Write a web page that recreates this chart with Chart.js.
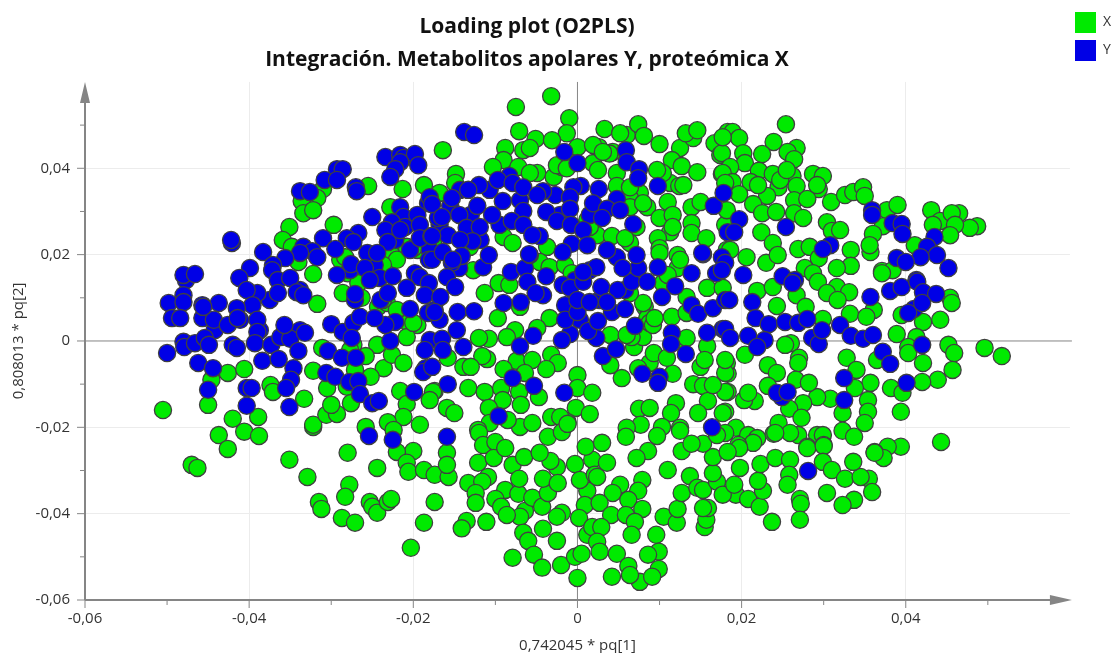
<!DOCTYPE html>
<html>
<head>
<meta charset="utf-8">
<title>Loading plot (O2PLS)</title>
<script src="https://cdn.jsdelivr.net/npm/chart.js@4"></script>
<style>
    html, body { margin: 0; padding: 0; background: #ffffff; }
    canvas { display: block; }
</style>
</head>
<body>
<canvas id="loadingChart" width="1112" height="653"></canvas>
<script>
// Chart text
const titleLines = ['Loading plot (O2PLS)', 'Integración. Metabolitos apolares Y, proteómica X'];
const xAxisTitle = '0,742045 * pq[1]';
const yAxisTitle = '0,808013 * pq[2]';
const seriesNames = ['X', 'Y'];

// Axis limits and tick step
const axisMin = -0.06;
const axisMax = 0.06;
const tickStep = 0.01;

// Loadings, as [pq1, pq2] in thousandths
const seriesXTop = [[-16.4,44.2],[-7.5,54.2],[-3.2,56.7],[-1,51.6],[-7.1,48.6],[-1.3,48.1],[-5.1,46.8],[-3.1,46.5],[-8.8,44.7],[-6.6,44.2],[-5.8,44.7],[0,44.9],[-9,41.9],[-7.2,40.3],[-10.3,40.3],[-14.8,38.7],[-4.9,38.9],[-2.9,38],[-1.9,40.3],[1.9,41.2],[2.5,39.6],[3.3,49.1],[6,47.7],[5.2,48.1],[7.4,50.2],[8.1,47.5],[2.6,44.9],[1.9,45.4],[4.3,43.8],[10,45.6],[12.5,44.7],[14.1,47],[13.2,48.1],[14.6,48.8],[11.5,41.9],[12.7,40.5],[14.6,39.1],[16.7,45.8],[17.4,43.1],[17.6,38.7],[18.3,48.4],[4.8,38.9],[4.8,35.9],[11.3,36.6],[12.4,35.9],[11,32.2],[7.6,34.3],[8.5,31],[10,28.5],[11.6,29.2],[13.9,31],[15,32.2],[11.3,25.2],[9.8,23.8],[10,21.5],[13.9,27.3],[13.9,25],[15.7,23.8],[18,26.9],[-9,24.1],[-7.9,22.7],[2.4,24.5],[4.2,24.3],[7.2,26.4],[6.4,22.7],[-3.7,21.8],[12.2,19.9],[18.2,21.1],[-13.1,21.8]];
const seriesXUpperRight = [[25.4,50.2],[18.9,48.4],[19.7,47],[23.9,46.1],[26.7,44.7],[25.6,43.8],[26.4,42.1],[20.2,43.5],[22.5,43.3],[17.6,43.5],[20.4,41.2],[18.6,40.3],[22.1,39.4],[23.8,38.7],[26.2,38.2],[17.7,38.9],[21.1,36.8],[28.7,38.7],[29.9,38.2],[29.4,35.2],[24.5,35.6],[26.7,35.9],[18.9,36.8],[19.7,34],[23.1,33.6],[26.4,32.6],[28,32.9],[30.9,32.2],[32.6,33.8],[33.6,34.5],[34.8,35.6],[35,33.6],[21.4,31.7],[22.5,29.6],[24.2,29.9],[26.4,29.6],[27.5,28.5],[18.2,30.3],[30.4,27.5],[31,25.5],[32,25.7],[37.7,30.3],[39,31.5],[43.1,30.3],[44.2,27.8],[46.5,29.6],[45.6,29.6],[48.7,26.6],[47.8,26.2],[46,26.9],[43.3,26.9],[45.4,24.5],[37.2,26.6],[36,24.8],[22.4,25.2],[23.8,22.7],[26.9,21.3],[28.3,21.8],[33.3,21.1],[35.7,20.6],[35.6,22.2],[18.6,21.1],[20.6,19.4],[23,18.1],[24.4,19.9],[29.4,19.2],[33.3,17.4],[31.6,16.9],[27.7,16.9],[37.1,16.2],[41.1,22.2],[38.4,16.4],[28.7,15.7],[17.7,47.2],[18,36.6],[24.7,37.3],[25.5,39.6],[22,36.1],[29.2,36.1]];
const seriesXRight = [[29.3,13.7],[31.6,12.5],[33.1,11.3],[30.4,11.1],[31.7,9.5],[37.1,15.7],[45.4,10],[45.6,8.8],[21.9,11.6],[23.8,12.5],[26.7,10.6],[24.3,8.1],[27.8,7.9],[29.9,5.1],[33.2,6.3],[36.1,7.2],[35.2,5.6],[44.2,4.9],[39.5,6],[42.1,4.4],[38.9,1.6],[41.3,0.9],[45.2,-0.9],[45.9,-2.8],[49.6,-1.6],[51.7,-3.5],[45.7,-6.7],[43.9,-9],[42.1,-5.1],[42,-9.5],[40.3,-1.4],[40.3,-2.8],[36.5,-4.4],[32.8,-3.9],[34,-6.7],[35.7,-9.7],[33.8,-10.9],[38.2,-10.9],[39.6,-12],[35.4,-13.7],[35.4,-16.4],[39.4,-16.4],[35,-19],[32.3,-16.7],[30.8,-13.4],[29.2,-13],[32.3,-20.8],[33.7,-22.2],[44.3,-23.4],[39.4,-24.5],[37.8,-24.5],[36.2,-25.7],[26,-0.5],[25.3,-0.9],[27,-3.9],[26.9,-5.1],[23.2,-5.6],[24.3,-7.4],[23.2,-10.4],[26.6,-9],[28.2,-9.7],[27.5,-14.4],[25.8,-15.7],[27.3,-17.8],[24.5,-19],[23.9,-21.5],[26.9,-21.8],[25.9,-21.3],[29.2,-21.8],[29.9,-21.8],[30,-24.1],[28,-24.5],[21.6,-13.9],[20.3,-13.7],[20.8,-12],[18,-16.4],[18.3,-11.8],[18.3,-7.6],[18.2,-5.1],[20.4,-3.2],[19.3,-20.1],[18,-21.3],[20.8,-21.8],[21.9,-22.5],[21.4,-23.6],[19.6,-24.1]];
const seriesXCentre = [[-11.3,11.1],[-9.6,13.4],[-8.3,13],[-9.7,5.3],[-7,7.9],[-3.4,5.3],[-4.9,3],[-7.6,2.5],[-8.6,0.9],[-10.8,0.5],[-12,0.7],[-11,-4.2],[-11.6,-3.5],[-13.9,-6],[-13,-6],[-15.8,-3.9],[-7.4,-4.6],[-5.5,-4.4],[-3.2,-3.2],[-2.4,-5.1],[-3.8,-6.5],[-9,-6.5],[-6.4,-7.4],[-13.3,-10.9],[-17.4,-11.6],[-11.3,-11.8],[-9.3,-10.9],[-7.1,-11.8],[0,-7.9],[0,-10.9],[1.8,-12],[-4.7,-13],[-9.1,-13.7],[-6.9,-14.8],[-10.8,-15.5],[-15.9,-15.5],[-15,-16.7],[-0.2,-15.5],[1.5,-16.9],[-1.2,-18.8],[-3.2,-17.6],[-2.1,-17.6],[-7,-19.9],[-5.5,-19],[-10.7,-19],[-12.1,-20.6],[-8.5,-18.3],[5.4,-8.6],[4,-5.6],[8.8,-5.1],[11.6,-7.6],[7.4,-6.3],[9.3,-2.8],[10.9,-3.9],[6.9,-1.4],[8,0.9],[6.6,0.9],[8.2,7.9],[8.5,5.3],[8.8,4.2],[11.5,5.6],[12.8,0.2],[15.8,-1.2],[15,-6],[14.1,-10],[15.3,-10.4],[18,-7.4],[18,-11.8],[15.9,-13.9],[17.7,-16.7],[14.7,-16.7],[7.5,-15.7],[8.8,-15.5],[12,-14.4],[11.4,-16.7],[7.7,-19.4],[10.3,-19.9],[12.5,-20.1],[6,-20.1],[16.5,-10.2],[4,1.4]];
const seriesXHidden = [[8,8.8],[9.2,3.7],[6,1.4],[13.3,0.7],[9.4,5.3],[12.2,16.9],[10.4,13.4],[11,15.3],[12.5,18.8],[10,20.4],[13.3,10.2],[13.3,6.5],[15.8,12.3],[18,-4.4],[15.5,-4.4],[17.7,12.3],[-4.6,18.3],[-3.4,17.1],[-12.7,16.4],[-1.5,17.6],[-0.7,15.7],[6.4,11.1],[-20.6,4.2],[-19.5,3.7],[-27.3,-0.9],[-27.7,-2.1],[-28.1,-10.6],[-24.3,7.9],[-23.2,8.8],[-22,7.2],[-28.9,18.8],[-28,15.7],[-22.8,20.4],[-20.8,21.8],[-19.5,21.1],[1.2,28],[1.5,26.4],[6.4,33.1],[6.4,31],[8,31.9],[3.9,43.4],[3.1,43.8],[-2.5,40.7],[-1.3,40],[-5.8,38.9],[-14.9,36.6],[-16.8,34.3],[10.4,38.9],[9.7,39.6],[12.9,36.1],[6.4,35.6],[11.6,26.4],[5.8,23.8]];
const seriesXLowerLeft = [[-32.2,-19.9],[-28,-25.9],[-24.4,-29.4],[-32.9,-31.5],[-27.8,-33.3],[-28.3,-36.1],[-31.5,-37.3],[-31.2,-38.9],[-28.7,-41],[-27.1,-42.1],[-25.3,-37.3],[-25,-38.4],[-24.4,-39.8],[-23.1,-37.3],[-22.7,-36.6],[-17.4,-37.3],[-18.7,-42.1],[-20.3,-47.9],[-13.5,-41.7],[-14.1,-43.4],[-11.1,-41.9],[-20,-25.5],[-22,-25.7],[-20.8,-28.2],[-20.6,-30.3],[-18.7,-29.9],[-17.4,-31],[-15.7,-31.5],[-15.9,-25.9],[-15.9,-28.7],[-12.1,-28.2],[-12,-21.3],[-11.5,-24.1],[-10,-23.4],[-10.2,-27.1],[-8.8,-24.8],[-13.3,-32.9],[-10.9,-31.5],[-11.6,-32.6],[-12.4,-35.2],[-12.4,-37.5],[-8.8,-34.5],[-10,-36.6],[-9.3,-38.4],[-7.2,-35.4],[-7.9,-28.7],[-7.1,-31.9],[-6.5,-26.9],[-6.4,-39.4],[-7,-40.7],[-8.6,-40.3],[-5.5,-36.3],[-4.3,-38.4],[-3.6,-35.2],[-4.2,-31.9],[-2.5,-29.2],[-3.3,-27.8],[-2.4,-32.9],[-4.6,-25.9],[-0.3,-28.5],[1.8,-27.5],[1,-24.5],[1.2,-34.7],[0.3,-32.2],[2.1,-31],[0.9,-38],[-1.9,-39.8],[-2.5,-40.7],[-4.2,-43.5],[0.2,-41],[1.2,-44.9],[1.8,-43.1],[-6.6,-44.4],[-6,-46.3],[-2.5,-46.3],[-5.3,-49.5],[-7.9,-50.2],[-4.3,-52.5],[-2,-51.9],[-0.3,-50],[0.5,-49.3],[0,-54.9],[-3.6,-22.2],[-1.9,-21.1],[-1.2,-19.2]];
const seriesXLowerRight = [[3,-23.6],[5.9,-22.2],[9.7,-22],[12.5,-20.8],[8.6,-25.5],[7.2,-27.1],[12.7,-25.5],[3.6,-28.2],[2.4,-31.5],[11,-29.9],[13.7,-31.3],[7.9,-32.2],[5.2,-33.3],[4.3,-35.2],[7.4,-34.7],[6.2,-36.8],[2.7,-37.5],[7.9,-38.9],[4.1,-40.3],[5.9,-40.3],[7,-41.9],[2.9,-43.1],[6.6,-44.9],[9.6,-44.9],[2.4,-46.5],[2.7,-48.8],[4.8,-49.3],[9.9,-48.8],[8.6,-49.5],[6.2,-52.1],[9.9,-52.8],[4.2,-54.6],[7.6,-55.8],[9.1,-54.6],[6.4,-54.2],[10.5,-40.7],[12.1,-42.1],[12.2,-38.9],[12.7,-35.2],[15.5,-43.1],[15.7,-41.4],[15.9,-38.7],[15.3,-38.7],[14.6,-34],[15.3,-34.5],[17,-32.6],[16.5,-30.6],[16.5,-26.9],[15.3,-23.8],[13.9,-23.8],[17,-21.8],[19.3,-35.6],[20.8,-36.6],[17.7,-35.6],[19.1,-33.3],[22.2,-38.4],[22.6,-34.7],[22,-32.4],[19.8,-29.4],[22.3,-28.5],[24.1,-27.1],[25.9,-27.5],[25.8,-31],[25.6,-33.3],[27.1,-36.6],[27.2,-37.7],[27.1,-41.4],[23.7,-41.9],[28,-24.8],[30,-24.3],[29.9,-28],[31,-29.9],[32.6,-31.9],[35.5,-31.9],[34.5,-31.5],[35.9,-35],[33.7,-36.8],[32.3,-38],[30.4,-35.2],[33.6,-28],[37.3,-27.1],[36.2,-25.9],[24.1,-21.3],[19.7,-24.8],[18.3,-25.7]];
const seriesXLeft = [[-50.5,-16],[-45,-14.8],[-42.6,-7.4],[-44.6,-9],[-40.6,-6.5],[-42,-18],[-43.7,-21.8],[-42.6,-25],[-40.6,-21],[-38.8,-22],[-38.9,-17.6],[-47,-28.7],[-46.3,-29.4],[-35.1,-27.5],[-37.4,-10.2],[-37.1,-11.8],[-33.3,-13.4],[-32.2,-19.4],[-32.2,-6.9],[-31.1,-1.6],[-30.6,-17.1],[-29.3,-16.9],[-30.5,-10.9],[-30,-14.8],[-27.6,-14.4],[-25.8,-19.9],[-24.4,-0.9],[-23.6,-6.3],[-22.6,-3.2],[-21.2,-5.1],[-25.2,-8.3],[-27.1,-6.7],[-25.8,-3.5],[-20.8,0.9],[-20,4.2],[-21.6,-11.6],[-17.6,-11.8],[-18,-13.7],[-20.8,-14.6],[-19.2,-19.4],[-21.2,-17.6],[-23.1,-18.8],[-22.4,-20.6]];
const seriesXUpperLeft = [[-25.5,35.9],[-31,35.2],[-31.7,33.1],[-33.6,32.4],[-33.4,29.6],[-32.2,30.3],[-35.1,26.4],[-35.9,23.4],[-34.8,21.8],[-29.7,26.9],[-21.3,35.2],[-18.7,36.1],[-22.8,31],[-34,18.3],[-32.2,15.5],[-28.3,19.4],[-22,18.8],[-23.7,17.6],[-28.6,11.1],[-26.3,10],[-31.7,8.6],[-23.7,9.5],[-20,21.5],[-17.6,22.7],[-26.7,13.4]];

const seriesYLeft = [[-23.4,42.6],[-21.6,43.1],[-21.2,42.4],[-19.8,43.3],[-19.4,40.7],[-21.6,41.4],[-22.2,39.8],[-22.8,38],[-29.3,39.8],[-28.6,39.8],[-30.8,37.3],[-29.3,37.3],[-27,35.6],[-26.9,34.7],[-33.8,34.7],[-32.6,34.5],[-42.1,22.7],[-42.2,23.4],[-25,28.7],[-18.2,31.9],[-18,33.3],[-21.6,31],[-21.2,28.7],[-19.5,29.2],[-22.6,27.5],[-23.4,25.7],[-21,26.4],[-19.2,26.9],[-23.1,22.9],[-21.6,25.7],[-19.2,23.8],[-17.8,24.3],[-17,28.5],[-31,23.8],[-26.7,25],[-28.1,23.8],[-27.3,22.9],[-33.4,21.8],[-32.3,20.8],[-33.8,20.4],[-29.5,21.3],[-31.7,19.4],[-25.6,20.4],[-24.4,20.4],[-38.3,20.6],[-35.6,19.2],[-37.1,17.6],[-39.9,16.9],[-37.2,16.4],[-41.2,14.6],[-27.6,17.8],[-25.9,16.9],[-29.3,15.3],[-24.1,14.6],[-22.5,15],[-25.3,14.1],[-18.1,18.8],[-19.8,15.7],[-19.2,14.8],[-18.1,13.4],[-36.5,14.1],[-35,14.6],[-39,11.1],[-40.3,11.8],[-36.5,11.1],[-34.2,11.3],[-33.4,10.6],[-27.1,10.9],[-23.1,11.1],[-20.8,12.3],[-18.6,10.6],[-47.7,14.1],[-48,15.3],[-46.6,15.5],[-48,10.6],[-49.8,8.8],[-48,9],[-45.7,8.3],[-43.7,8.8],[-39.6,8.3],[-41.5,7.6]];
const seriesYLowerLeft = [[-49.4,5.3],[-48.4,5.3],[-45.7,5.3],[-44.3,4.9],[-45.6,7.9],[-42.6,3.7],[-41.4,5.3],[-39,4.9],[-39,2.1],[-48,-0.2],[-47.9,-1.4],[-46.6,-0.5],[-45.4,0.7],[-44.9,-0.9],[-50,-2.8],[-42,-0.9],[-41.5,-1.6],[-39.3,-0.5],[-37.3,-0.9],[-36.2,0.9],[-35,0.5],[-35.7,3.7],[-33.2,1.9],[-34,-2.3],[-38.4,-4.6],[-36.4,-4.2],[-46.2,-5.1],[-44.4,-6.3],[-34.6,-6.3],[-34.9,-9],[-35.5,-10.9],[-35.1,-15.3],[-45,-11.3],[-40.3,-10.9],[-39.7,-10.9],[-40.3,-15],[-30,3.9],[-28.6,2.1],[-27.3,4.2],[-26.5,5.6],[-27.5,0.7],[-30.4,-2.3],[-28.7,-3.9],[-27,-3.9],[-30.6,-7.4],[-29.5,-8.3],[-27.8,-9.5],[-26.7,-9.3],[-26.5,-12.3],[-25,-14.4],[-24.2,-13.9],[-25.4,-22],[-22.5,-22.9],[-19.9,-11.8],[-22.8,0],[-22.2,4.4],[-23.4,3.7],[-24.7,5.3],[-20.4,7.4],[-18.6,-2.1],[-18.5,-6.3],[-18.8,-7.2],[-18.2,6.5],[-17.4,7.2]];
const seriesYCentre = [[-11.5,17.1],[-10.8,19.9],[-14.4,16.9],[-15.3,18.1],[-15.9,14.8],[-14.9,12.5],[-16.7,10.2],[-17.4,6.7],[-14.6,6.7],[-12.6,6.9],[-14.7,2.5],[-16.5,0.5],[-16.4,-2.1],[-13.9,-1.4],[-15.8,-10],[-17.7,-6],[-9,8.8],[-6.9,9],[-8.1,16],[-6.4,16.9],[-5.8,19.9],[-6.1,13.7],[-3.8,15],[-4.2,10.6],[-5.1,11.1],[-1.8,13],[-0.9,12.3],[0.7,13.7],[2.3,17.1],[2.9,12.5],[4.8,19.4],[4.9,11.8],[4.2,6.7],[5.8,7.4],[6.6,13.7],[7.4,16.9],[5.5,16.9],[7.2,19.9],[9.8,17.1],[8.5,13.7],[10.3,10.2],[11.9,12.7],[13.9,15.7],[16.9,15.7],[13.9,8.3],[14.7,6.3],[16.5,7.6],[15.3,20.1],[18,9.5],[17.7,2.8],[15.8,1.9],[7,3.5],[11.5,1.9],[11.4,-0.7],[13.2,-3],[7.9,-7.6],[10,-8.3],[9.8,-9.7],[3.1,-3.5],[4.7,-1.9],[2.3,0.7],[1.3,2.3],[-0.9,1.6],[-1.9,0.2],[-1.5,4.9],[0,6.7],[2.5,4.6],[-5.4,1.2],[-7,-1.2],[-7.9,-8.6],[-5.3,-10.4],[-1.6,-12],[-9.6,-17.4],[16.4,-20],[-17.7,18.8],[0,9.5],[1.5,9],[3.6,9],[0.7,16]];
const seriesYTop = [[-13.8,48.4],[-12.6,47.7],[-1.6,43.8],[0,41.2],[5.9,44.2],[6,41.4],[7.5,39.8],[7.4,37.7],[9.8,35.9],[-8.3,38.2],[-9.7,37.3],[-7.9,36.6],[-6.6,35.6],[-12,36.1],[-13.3,35],[-4.2,34.7],[-4.9,33.8],[0.4,35.9],[-0.5,35.6],[2.6,35.2],[-0.9,33.3],[-15.3,33.1],[-9.1,32.4],[-12.2,31.3],[-17.7,31.7],[-0.9,30.6],[1.9,31.9],[4.8,32.9],[3.6,30.6],[5.2,30.3],[16.6,31.3],[17.8,34.3],[-6.6,30.1],[-3.8,29.9],[-10.4,29.2],[-16.5,28.7],[-14.4,29.2],[-8,27.8],[-2.5,27.8],[3,28.5],[-0.8,26.9],[6.8,27.1],[-6.6,26.9],[-13.5,26.2],[-15.8,24.5],[-17.7,24.3],[-11.9,26.4],[-12.8,23.1],[-14.3,23.4],[-4.6,24.3],[-5.5,24.5],[0.7,25.7],[-0.7,22.5],[1.2,22.2],[-1.8,20.6],[-16.4,20.6],[-14.1,19.7],[-15.2,18.8],[-5.9,20.1],[3.6,21.1],[15.2,20.4],[17.6,19.4],[18.3,25.2]];
const seriesYRight = [[19.7,28.2],[19.1,25.2],[25.4,26.4],[30.8,22.2],[29.9,21.3],[35.9,30.3],[35.9,29.2],[38.4,27.3],[39.5,27.1],[39.6,24.8],[43.5,24.1],[42.6,21.8],[43.8,19.9],[41.8,19.4],[38.9,19.2],[40,18.3],[45.2,16.9],[18,18.1],[17.6,16.4],[20.2,15.3],[25,15],[26.5,14.1],[41.3,14.1],[26.2,13.4],[18.5,9.5],[21.3,9],[21.7,5.3],[23.3,3.9],[25.3,4.4],[26.9,4.2],[28,5.1],[18,2.8],[18.6,0.7],[20.8,1.2],[22.8,0.2],[21.9,-1.4],[28.6,0.7],[29.4,-0.7],[29.8,2.5],[32,3.7],[33.3,1.2],[34.8,0.5],[36,1.4],[37.2,-2.5],[38.1,-5.3],[42,-0.9],[35.7,10.2],[38.1,11.6],[39.5,12.5],[41.4,13.7],[42.1,11.3],[43.7,10.9],[41,7.4],[40.3,6.5],[42,8.8],[32.5,-8.6],[32.5,-13.7],[40.1,-9.7],[24.9,-13],[24.3,-12],[25.6,-11.8],[28.1,-30.1],[-15.9,-22.2]];
const seriesYDense = [[-15.5,31.3],[-16.8,26.9],[-13,29.2],[-11.8,23.4],[-18,21.1],[-22.2,23.4],[-20.4,21.1],[-14.3,35],[-10.7,35],[-7,32.6],[-9.5,26.9],[-2.7,33.8],[-2.1,29.2],[1.5,29.2],[-0.3,14.1],[1.5,16.4],[2.7,9.5],[-1.5,8.3],[0.3,4.9],[5.8,11.8],[-27.7,16.4],[-24.7,17.6],[-33.8,11.8],[-37.5,9.5],[-41.1,4.9],[-44.2,2.5],[-38.7,2.5],[-33.8,2.5],[-27.1,9.5],[-24,9.5],[-16.8,4.9],[-18,0.2]];

const seriesXValues = [].concat(seriesXTop, seriesXUpperRight, seriesXRight, seriesXCentre, seriesXHidden, seriesXLowerLeft, seriesXLowerRight, seriesXLeft, seriesXUpperLeft);
const seriesYValues = [].concat(seriesYDense, seriesYLeft, seriesYLowerLeft, seriesYCentre, seriesYTop, seriesYRight);

// Colours
const greenFill = '#00ea00';
const blueFill = '#0000e6';
const markerBorder = '#404040';
const axisGray = '#858585';
const gridGray = '#ececec';
const labelGray = '#333333';
const fontFamily = '"Open Sans", "Noto Sans", sans-serif';

document.addEventListener('DOMContentLoaded', function() {
    drawChart();
});

// Tick labels use a decimal comma, only every second tick has one
function formatTick(value) {
    const hundredths = Math.round(value * 100);
    if (hundredths % 2 !== 0 || hundredths === 6) return '';
    if (hundredths === 0) return '0';
    return value.toFixed(2).replace('.', ',');
}

// Grid lines sit on the labelled ticks, the zero line is drawn by the plugin
function gridColor(context) {
    const hundredths = Math.round(context.tick.value * 100);
    if (hundredths % 2 !== 0 || hundredths === 0 || Math.abs(hundredths) === 6) {
        return 'rgba(0, 0, 0, 0)';
    }
    return gridGray;
}

function toDataset(values) {
    return values.map(pair => ({ x: pair[0] / 1000, y: pair[1] / 1000 }));
}

// Axis lines with arrow heads, zero lines and tick marks
const arrowAxesPlugin = {
    id: 'arrowAxes',
    beforeDatasetsDraw(chart) {
        const ctx = chart.ctx;
        const area = chart.chartArea;
        const xScale = chart.scales.x;
        const yScale = chart.scales.y;
        const tipX = area.right + 2;
        const tipY = area.top;

        ctx.save();
        ctx.strokeStyle = axisGray;
        ctx.fillStyle = axisGray;

        // Zero lines
        ctx.lineWidth = 1;
        ctx.beginPath();
        ctx.moveTo(area.left, yScale.getPixelForValue(0));
        ctx.lineTo(tipX, yScale.getPixelForValue(0));
        ctx.moveTo(xScale.getPixelForValue(0), area.bottom);
        ctx.lineTo(xScale.getPixelForValue(0), tipY);
        ctx.stroke();

        // Axis lines
        ctx.lineWidth = 2;
        ctx.beginPath();
        ctx.moveTo(area.left, area.bottom);
        ctx.lineTo(tipX - 20, area.bottom);
        ctx.moveTo(area.left, area.bottom);
        ctx.lineTo(area.left, tipY + 20);
        ctx.stroke();

        // Arrow heads
        ctx.beginPath();
        ctx.moveTo(tipX, area.bottom);
        ctx.lineTo(tipX - 22, area.bottom - 5);
        ctx.lineTo(tipX - 22, area.bottom + 5);
        ctx.closePath();
        ctx.moveTo(area.left, tipY);
        ctx.lineTo(area.left - 5, tipY + 21);
        ctx.lineTo(area.left + 5, tipY + 21);
        ctx.closePath();
        ctx.fill();

        // Tick marks, longer on the labelled ones
        ctx.lineWidth = 1;
        ctx.beginPath();
        xScale.ticks.forEach(tick => {
            const hundredths = Math.round(tick.value * 100);
            if (hundredths === 6) return;
            const length = hundredths % 2 === 0 ? 8 : 5;
            const px = xScale.getPixelForValue(tick.value);
            ctx.moveTo(px, area.bottom);
            ctx.lineTo(px, area.bottom + length);
        });
        yScale.ticks.forEach(tick => {
            const hundredths = Math.round(tick.value * 100);
            if (hundredths === 6) return;
            const length = hundredths % 2 === 0 ? 8 : 5;
            const py = yScale.getPixelForValue(tick.value);
            ctx.moveTo(area.left, py);
            ctx.lineTo(area.left - length, py);
        });
        ctx.stroke();
        ctx.restore();
    }
};

// The title is centred a bit left of the canvas centre, the legend sits in the top right corner
const blockShiftPlugin = {
    id: 'blockShift',
    beforeDraw(chart) {
        chart.titleBlock.left = 0;
        chart.titleBlock.right = 1054;
        chart.legend.left = 1068;
        chart.legend.right = chart.legend.left + chart.legend.width;
    }
};

function drawChart() {
    const ctx = document.getElementById('loadingChart').getContext('2d');
    new Chart(ctx, {
        type: 'scatter',
        data: {
            datasets: [
                {
                    label: seriesNames[0],
                    data: toDataset(seriesXValues),
                    backgroundColor: greenFill,
                    borderColor: markerBorder,
                    order: 2
                },
                {
                    label: seriesNames[1],
                    data: toDataset(seriesYValues),
                    backgroundColor: blueFill,
                    borderColor: markerBorder,
                    order: 1
                }
            ]
        },
        options: {
            responsive: false,
            animation: false,
            layout: {
                padding: { top: 5, right: -11 }
            },
            elements: {
                point: { radius: 8.6, borderWidth: 1.3, hoverRadius: 8.6 }
            },
            plugins: {
                title: {
                    display: true,
                    text: titleLines,
                    color: '#111111',
                    font: { family: fontFamily, size: 21, weight: 'bold', lineHeight: 1.57 },
                    padding: { top: 6, bottom: 5 }
                },
                legend: {
                    position: 'right',
                    align: 'start',
                    labels: {
                        boxWidth: 21,
                        boxHeight: 21,
                        padding: 7,
                        color: labelGray,
                        font: { family: fontFamily, size: 14 },
                        generateLabels: function(chart) {
                            return chart.data.datasets.map((dataset, i) => ({
                                text: dataset.label,
                                fillStyle: dataset.backgroundColor,
                                strokeStyle: dataset.backgroundColor,
                                lineWidth: 0,
                                fontColor: labelGray,
                                datasetIndex: i
                            }));
                        }
                    }
                },
                tooltip: { enabled: false }
            },
            scales: {
                x: {
                    type: 'linear',
                    min: axisMin,
                    max: axisMax,
                    afterFit: function(scale) { scale.height = 53; },
                    border: { display: false },
                    grid: { color: gridColor, tickColor: 'rgba(0, 0, 0, 0)', tickLength: 8 },
                    ticks: {
                        stepSize: tickStep,
                        autoSkip: false,
                        maxRotation: 0,
                        padding: 2,
                        color: labelGray,
                        font: { family: fontFamily, size: 15 },
                        callback: formatTick
                    },
                    title: {
                        display: true,
                        text: xAxisTitle,
                        color: labelGray,
                        font: { family: fontFamily, size: 15 },
                        padding: { top: 0, bottom: -2 }
                    }
                },
                y: {
                    type: 'linear',
                    min: axisMin,
                    max: axisMax,
                    afterFit: function(scale) { scale.width = 85; },
                    border: { display: false },
                    grid: { color: gridColor, tickColor: 'rgba(0, 0, 0, 0)', tickLength: 8 },
                    ticks: {
                        stepSize: tickStep,
                        autoSkip: false,
                        padding: 7,
                        color: labelGray,
                        font: { family: fontFamily, size: 15 },
                        callback: formatTick
                    },
                    title: {
                        display: true,
                        text: yAxisTitle,
                        color: labelGray,
                        font: { family: fontFamily, size: 15 },
                        padding: { top: 10, bottom: 0 }
                    }
                }
            }
        },
        plugins: [arrowAxesPlugin, blockShiftPlugin]
    });
}
</script>
</body>
</html>
